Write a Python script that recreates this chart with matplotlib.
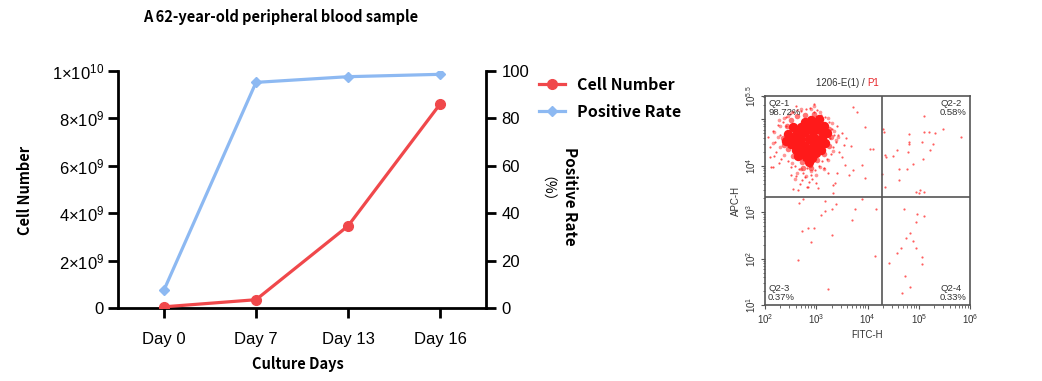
import matplotlib
matplotlib.use("Agg")
import matplotlib.pyplot as plt
import numpy as np
from matplotlib.lines import Line2D
from matplotlib.ticker import FixedLocator, NullFormatter

plt.rcParams['mathtext.fontset'] = 'custom'
plt.rcParams['mathtext.rm'] = 'Liberation Sans'
plt.rcParams['mathtext.it'] = 'Liberation Sans'
plt.rcParams['font.family'] = ['Liberation Sans', 'DejaVu Sans']

# ---------------- line chart data ----------------
days = ["Day 0", "Day 7", "Day 13", "Day 16"]
cell_number = [0.05e9, 0.35e9, 3.46e9, 8.6e9]
positive_rate = [7.6, 95.2, 97.6, 98.6]
left_ticks = [0, 2e9, 4e9, 6e9, 8e9, 1e10]
left_tick_labels = ["0", r"$2{\times}10^{9}$", r"$4{\times}10^{9}$", r"$6{\times}10^{9}$",
                    r"$8{\times}10^{9}$", r"$1{\times}10^{10}$"]
right_ticks = [0, 20, 40, 60, 80, 100]

# ---------------- flow cytometry data (log10 units) ----------------
core_lx = [2.85, 2.70, 3.00, 2.55, 3.12, 2.78, 2.93, 2.63, 3.07, 2.85, 2.70, 3.00, 2.90, 2.78, 3.05,
           2.78, 2.93, 2.63, 3.08, 2.50, 2.85, 2.70, 3.00, 2.80, 2.92, 2.65, 2.45, 2.40, 3.20, 3.18,
           2.55, 3.15, 2.60, 3.10, 2.85]
core_ly = [4.58, 4.58, 4.58, 4.58, 4.60, 4.73, 4.73, 4.70, 4.76, 4.86, 4.83, 4.88, 4.98, 4.95, 5.00,
           4.43, 4.43, 4.45, 4.43, 4.46, 4.30, 4.31, 4.28, 4.18, 4.16, 4.20, 4.68, 4.53, 4.70, 4.48,
           4.83, 4.86, 4.33, 4.33, 4.08]
halo_lx = [2.35, 2.42, 2.50, 2.62, 2.78, 2.95, 3.10, 3.25, 3.28, 3.25, 3.15, 3.02, 2.88, 2.72,
           2.55, 2.45, 2.38, 2.90, 2.75]
halo_ly = [4.60, 4.85, 4.98, 5.08, 5.10, 5.12, 5.00, 4.80, 4.62, 4.42, 4.25, 4.12, 4.02, 4.08,
           4.20, 4.35, 4.45, 3.95, 3.95]
halo2_lx = [2.25, 2.30, 2.38, 2.52, 2.70, 2.90, 3.08, 3.22, 3.35, 3.38, 3.32, 3.22, 3.08, 2.90,
            2.70, 2.52, 2.38, 2.30, 2.62, 3.00, 2.18, 2.15, 2.28, 3.42, 2.80, 2.45, 3.15, 2.58,
            2.95, 3.30]
halo2_ly = [4.62, 4.85, 5.02, 5.15, 5.22, 5.22, 5.15, 5.02, 4.75, 4.55, 4.32, 4.12, 3.98, 3.88,
            3.92, 4.05, 4.22, 4.40, 3.85, 3.80, 4.72, 4.48, 4.98, 4.62, 3.78, 5.08, 3.92, 3.72,
            5.28, 4.92]
fringe_lx = [2.05, 2.10, 2.15, 2.20, 2.25, 2.22, 2.30, 2.32, 2.35, 2.28, 2.40, 2.45, 2.48, 2.50,
             2.55, 2.58, 2.62, 2.66, 2.70, 2.75, 2.80, 2.82, 2.88, 2.90, 2.95, 2.98, 3.02, 3.06,
             3.10, 3.12, 3.18, 3.20, 3.25, 3.28, 3.30, 3.32, 3.35, 3.38, 3.26, 3.40, 3.45, 3.50,
             3.55, 2.72, 2.85, 2.78, 2.92, 3.00, 2.60, 2.68, 2.95, 2.60, 2.40, 2.18, 2.12, 3.15,
             3.22, 2.50, 2.10, 2.16, 2.65, 2.81, 3.33, 3.40]
fringe_ly = [4.62, 4.40, 4.75, 4.50, 4.88, 4.30, 4.65, 4.15, 4.95, 4.05, 5.05, 4.10, 5.12, 3.98,
             5.15, 4.00, 5.20, 3.92, 5.18, 3.85, 5.22, 3.95, 5.25, 3.80, 5.15, 3.90, 5.20, 4.00,
             5.10, 4.10, 5.05, 4.15, 4.95, 4.25, 4.80, 4.40, 4.65, 4.50, 4.60, 4.85, 4.30, 4.70,
             4.45, 3.70, 3.65, 3.75, 3.72, 3.62, 3.78, 3.60, 5.33, 5.28, 4.85, 4.20, 3.98, 3.95,
             3.85, 3.80, 4.19, 3.98, 3.48, 3.55, 3.58, 3.84]
sparse_lx = [5.11, 4.30, 4.32, 5.47, 5.82, 5.11, 5.20, 5.32, 4.80, 4.80, 5.06, 5.28, 4.80, 5.22,
             4.57, 4.79, 4.34, 4.36, 4.50, 5.09, 4.89, 4.61, 4.78, 4.29, 4.61, 4.35, 5.02, 4.94,
             5.11, 5.01,
             3.71, 3.79, 3.95, 3.59, 3.68, 4.05, 4.11, 3.56, 3.89, 3.72, 3.95, 3.37, 2.83, 3.04,
             2.55, 3.33, 3.50, 3.43, 3.63,
             2.75, 3.18, 2.67, 3.90, 3.38, 3.30, 3.18, 3.76, 4.16, 3.09, 3.69, 2.84, 2.96, 2.72,
             3.30, 2.89, 4.15, 2.65, 3.22,
             4.71, 4.97, 5.11, 4.94, 4.83, 4.76, 4.88, 4.65, 4.94, 4.58, 5.07, 4.41, 5.06, 4.73,
             4.82, 4.68]
sparse_ly = [5.07, 4.79, 4.72, 4.80, 4.62, 4.73, 4.73, 4.70, 4.68, 4.52, 4.52, 4.46, 4.46, 4.33,
             4.33, 4.30, 4.23, 4.19, 4.20, 4.14, 4.04, 3.93, 3.93, 3.81, 3.69, 3.53, 3.48, 3.44,
             3.43, 3.41,
             5.26, 5.16, 4.83, 4.59, 4.43, 4.35, 4.36, 4.01, 4.01, 3.91, 3.73, 3.62, 3.55, 3.51,
             3.49, 3.41, 4.19, 4.66, 3.80,
             3.28, 3.24, 3.20, 3.28, 3.17, 3.07, 3.02, 3.06, 3.06, 2.94, 2.84, 2.66, 2.66, 2.60,
             2.50, 2.35, 2.05, 1.97, 1.34,
             3.06, 2.96, 2.91, 2.79, 2.56, 2.44, 2.38, 2.23, 2.23, 2.11, 2.03, 1.90, 1.88, 1.63,
             1.38, 1.26]
gate_x = 1.9e4
gate_y = 2.15e3
quadrant_names = ["Q2-1", "Q2-2", "Q2-3", "Q2-4"]
quadrant_pcts = ["98.72%", "0.58%", "0.37%", "0.33%"]

W, H = 1042, 381
fig = plt.figure(figsize=(W / 100, H / 100), dpi=100)

red = "#F0484B"
blue = "#8DB9F2"
bold_family = ['Noto Sans CJK SC', 'DejaVu Sans']

# ---------------- left line chart ----------------
ax = fig.add_axes([118 / W, 1 - 308 / H, (486 - 118) / W, (308 - 71) / H])
x = np.arange(len(days))
ax.plot(x, cell_number, color=red, lw=2.3, marker='o', ms=7, zorder=3)
ax.set_xlim(-0.5, 3.5)
ax.set_ylim(0, 1e10)
ax.set_yticks(left_ticks)
ax.set_yticklabels(left_tick_labels)
ax.set_xticks(x)
ax.set_xticklabels(days)
for s in ['top', 'right']:
    ax.spines[s].set_visible(False)
for s in ['left', 'bottom']:
    ax.spines[s].set_linewidth(2)
ax.tick_params(axis='both', width=2, length=7, labelsize=12, direction='out', pad=3)
ax.tick_params(axis='x', pad=10)

ax2 = ax.twinx()
ax2.plot(x, positive_rate, color=blue, lw=2.3, marker='D', ms=5, zorder=2)
ax2.set_ylim(0, 100)
ax2.set_yticks(right_ticks)
for s in ['top', 'left', 'bottom']:
    ax2.spines[s].set_visible(False)
ax2.spines['right'].set_linewidth(2)
ax2.tick_params(axis='y', width=2, length=7, labelsize=12, direction='out', pad=4)
ax.set_zorder(ax2.get_zorder() + 1)
ax.patch.set_visible(False)

fig.text(281 / W, 1 - 17 / H, "A 62-year-old peripheral blood sample", ha='center', va='center',
         fontsize=10.5, fontweight='bold', family=bold_family)
fig.text(25 / W, 1 - 190 / H, "Cell Number", ha='center', va='center', rotation=90,
         fontsize=10.5, fontweight='bold', family=bold_family)
fig.text(298 / W, 1 - 364 / H, "Culture Days", ha='center', va='center',
         fontsize=10.5, fontweight='bold', family=bold_family)
fig.text(570 / W, 1 - 196 / H, "Positive Rate", ha='center', va='center', rotation=270,
         fontsize=11, fontweight='bold', family=bold_family)
fig.text(539 / W, 1 - 196 / H, "（%）", ha='center', va='center', rotation=270,
         fontsize=10, family=bold_family)

handles = [Line2D([], [], color=red, lw=2.3, marker='o', ms=7),
           Line2D([], [], color=blue, lw=2.3, marker='D', ms=5)]
leg = fig.legend(handles, ["Cell Number", "Positive Rate"], loc='upper left',
                 bbox_to_anchor=(539 / W, 1 - 77 / H), frameon=False, handlelength=1.6,
                 handletextpad=0.75, labelspacing=0.68, borderpad=0, borderaxespad=0,
                 prop={'family': bold_family, 'weight': 'bold', 'size': 11.5})

# ---------------- flow cytometry panel ----------------
bx = fig.add_axes([765 / W, 1 - 305 / H, 205 / W, 209 / H])
bx.set_xscale('log')
bx.set_yscale('log')
bx.set_xlim(1e2, 1e6)
bx.set_ylim(1e1, 10 ** 5.5)
pc = "#FF1A1A"
bx.scatter(10 ** np.array(fringe_lx), 10 ** np.array(fringe_ly), s=2.5, color=pc, alpha=0.75,
           lw=0, zorder=2)
bx.scatter(10 ** np.array(sparse_lx), 10 ** np.array(sparse_ly), s=2.5, color=pc, alpha=0.7,
           lw=0, zorder=2)
bx.scatter(10 ** np.array(halo2_lx), 10 ** np.array(halo2_ly), s=7, color=pc, alpha=0.45,
           lw=0, zorder=2)
bx.scatter(10 ** np.array(halo_lx), 10 ** np.array(halo_ly), s=16, color=pc, alpha=0.6,
           lw=0, zorder=2)
bx.scatter(10 ** np.array(core_lx), 10 ** np.array(core_ly), s=46, color=pc, alpha=1.0,
           lw=0, zorder=3)
bx.axvline(gate_x, color="#555555", lw=1.2, zorder=4)
bx.axhline(gate_y, color="#555555", lw=1.2, zorder=4)
for s in bx.spines.values():
    s.set_color("#555555")
    s.set_linewidth(1.2)

bx.xaxis.set_major_locator(FixedLocator([1e2, 1e3, 1e4, 1e5, 1e6]))
bx.set_xticklabels([r"$10^{2}$", r"$10^{3}$", r"$10^{4}$", r"$10^{5}$", r"$10^{6}$"])
bx.yaxis.set_major_locator(FixedLocator([1e1, 1e2, 1e3, 1e4, 1e5, 10 ** 5.5]))
bx.set_yticklabels([r"$10^{1}$", r"$10^{2}$", r"$10^{3}$", r"$10^{4}$", "", r"$10^{5.5}$"])
bx.xaxis.set_minor_formatter(NullFormatter())
bx.yaxis.set_minor_formatter(NullFormatter())
bx.tick_params(which='major', length=3, width=0.8, color="#555555", labelsize=7,
               labelcolor="#333333", pad=2)
bx.tick_params(which='minor', length=1.8, width=0.6, color="#555555")
for lab in bx.get_yticklabels():
    lab.set_rotation(90)
    lab.set_va('center')

bx.set_xlabel("FITC-H", fontsize=7, color="#333333", labelpad=3)
bx.set_ylabel("APC-H", fontsize=7, color="#333333", labelpad=2)

bx.text(0.5, 1.04, "1206-E(1) / ", transform=bx.transAxes, ha='right', va='bottom',
        fontsize=7, color="#333333")
bx.text(0.5, 1.04, "P1", transform=bx.transAxes, ha='left', va='bottom',
        fontsize=7, color="#E8262A")

qfs = 6.8
bx.text(0.015, 0.985, quadrant_names[0] + "\n" + quadrant_pcts[0], transform=bx.transAxes,
        ha='left', va='top', fontsize=qfs, color="#333333", linespacing=1.0, zorder=5)
bx.text(0.985, 0.985, quadrant_names[1] + "\n" + quadrant_pcts[1], transform=bx.transAxes,
        ha='right', va='top', fontsize=qfs, color="#333333", linespacing=1.0,
        multialignment='left')
bx.text(0.015, 0.015, quadrant_names[2] + "\n" + quadrant_pcts[2], transform=bx.transAxes,
        ha='left', va='bottom', fontsize=qfs, color="#333333", linespacing=1.0)
bx.text(0.985, 0.015, quadrant_names[3] + "\n" + quadrant_pcts[3], transform=bx.transAxes,
        ha='right', va='bottom', fontsize=qfs, color="#333333", linespacing=1.0,
        multialignment='left')

fig.savefig("out.png", dpi=100)
